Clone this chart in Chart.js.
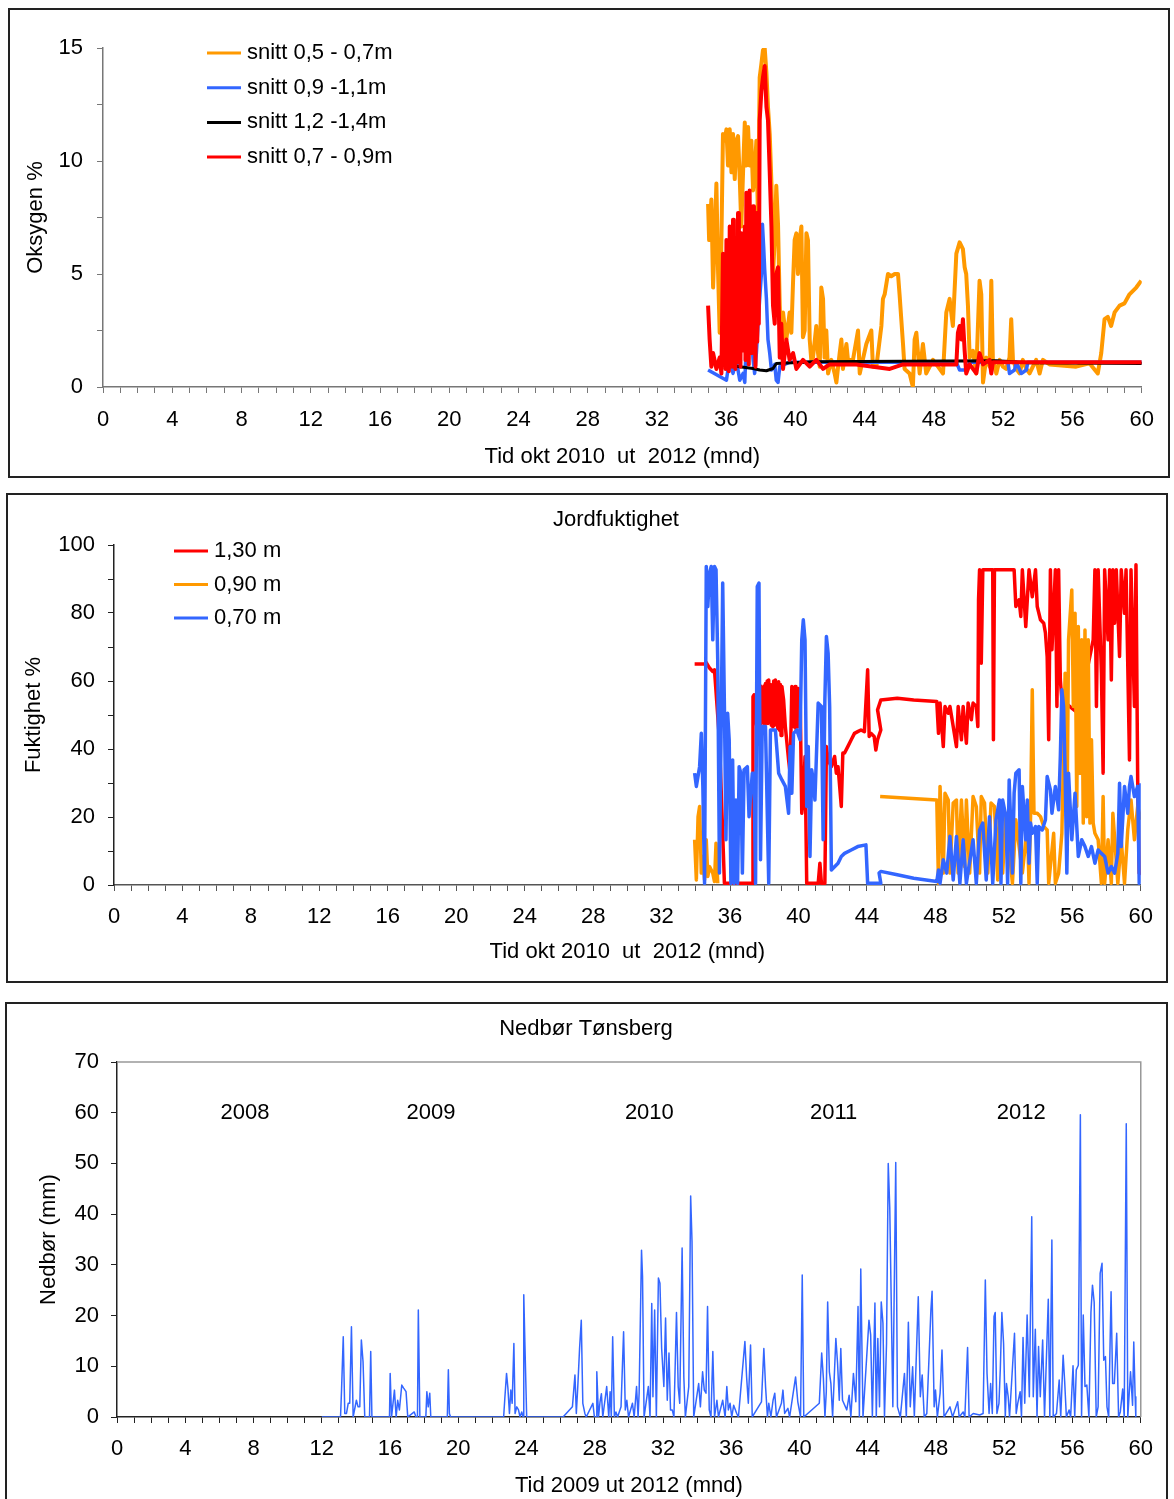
<!DOCTYPE html>
<html>
<head>
<meta charset="utf-8">
<script src="https://cdn.jsdelivr.net/npm/chart.js@4.4.0/dist/chart.umd.min.js"></script>
<style>
  body { margin: 0; background: #fff; width: 1174px; height: 1499px; position: relative; overflow: hidden; }
  .panel { position: absolute; border: 2px solid #222; background: #fff; }
  canvas { display: block; }
</style>
</head>
<body>
<div class="panel" style="left:8px;top:8px;width:1158px;height:466px"><canvas id="oksygen" width="1158" height="466"></canvas></div>
<div class="panel" style="left:6px;top:493px;width:1158px;height:486px"><canvas id="fukt" width="1158" height="486"></canvas></div>
<div class="panel" style="left:5px;top:1002px;width:1159px;height:499px"><canvas id="nedbor" width="1159" height="499"></canvas></div>
<script>
// ---- Oksygen % (months, value) ----
const snitt0507Mnd = [
  34.95,35.01,35.14,35.24,35.33,35.43,35.53,35.62,35.72,35.81,
  35.91,36.01,36.10,36.20,36.30,36.39,36.49,36.58,36.68,36.78,
  36.87,36.97,37.07,37.16,37.26,37.35,37.45,37.55,37.64,37.74,
  37.84,37.93,38.03,38.12,38.22,38.32,38.41,38.51,38.61,38.70,
  38.80,38.89,38.99,39.09,39.18,39.28,39.37,39.47,39.66,39.76,
  39.86,39.95,40.05,40.14,40.24,40.34,40.43,40.53,40.63,40.72,
  40.82,40.91,41.01,41.20,41.30,41.40,41.49,41.59,41.68,41.78,
  41.88,42.07,42.26,42.36,42.55,42.65,42.74,42.94,43.03,43.32,
  43.61,43.71,44.09,44.38,44.47,44.67,44.96,45.05,45.15,45.34,
  45.53,45.73,45.92,46.01,46.21,46.30,46.59,46.78,46.88,46.98,
  47.17,47.36,47.55,47.75,47.94,48.23,48.52,48.71,48.90,49.09,
  49.29,49.48,49.67,49.77,49.86,49.96,50.06,50.25,50.44,50.63,
  50.73,50.83,51.02,51.21,51.31,51.40,51.60,51.79,51.98,52.17,
  52.36,52.46,52.56,52.75,52.94,53.13,53.33,53.52,53.90,54.10,
  54.29,54.67,56.21,56.98,57.46,57.66,57.85,58.04,58.23,58.43,
  58.72,59.00,59.29,59.68,59.97
];
const snitt0507 = [
  8.1,6.5,8.3,4.4,6.5,9.0,5.0,2.4,6.5,11.2,
  10.9,11.4,9.8,11.4,9.5,11.2,9.2,10.9,11.1,9.2,
  7.1,9.5,11.7,9.8,11.5,9.8,10.9,8.7,9.5,10.9,
  7.2,13.7,14.3,14.9,15.0,13.9,12.4,11.2,9.0,5.0,
  6.5,8.9,7.2,3.6,1.3,3.3,2.7,2.1,3.3,2.4,
  4.7,6.5,6.8,5.0,6.5,7.1,2.2,2.5,6.8,6.5,
  2.1,1.2,1.3,2.7,1.5,0.9,4.4,3.9,1.3,2.5,
  0.6,1.2,0.6,0.2,1.5,2.1,0.8,1.9,1.2,1.2,
  2.5,0.6,1.9,2.5,0.9,0.9,2.7,3.9,4.1,5.0,
  4.9,5.0,5.0,4.1,1.9,0.8,0.6,0.0,2.1,2.4,
  0.6,1.9,0.6,0.9,1.2,0.9,0.6,3.3,3.9,2.7,
  5.9,6.4,6.1,5.3,5.0,3.6,1.3,1.6,0.6,4.7,
  4.1,0.2,1.3,0.9,4.7,1.2,0.6,1.2,0.9,0.8,
  1.3,3.0,1.2,0.8,0.6,1.2,0.8,0.6,1.2,0.6,
  1.2,1.0,0.9,1.05,0.6,1.5,3.0,3.1,2.7,3.3,
  3.6,3.7,4.1,4.4,4.7
];
const snitt0911Mnd = [
  34.95,36.01,36.20,36.39,36.58,36.78,36.97,37.07,37.16,37.26,
  37.35,37.45,37.55,37.64,37.74,37.84,37.93,38.03,38.09,38.16,
  38.22,38.32,38.41,38.51,38.61,38.80,38.89,38.99,39.09,39.66,
  49.29,49.48,49.86,50.06,52.27,52.36,52.65,52.75,53.04,53.33,
  53.42,60
];
const snitt0911 = [
  0.75,0.3,1.3,0.6,1.2,0.3,0.6,0.2,2.1,2.4,
  2.7,2.4,1.2,0.6,1.5,2.8,3.9,5.0,7.2,6.2,
  5.2,3.9,2.1,1.5,0.75,1.0,0.3,0.2,0.9,1.1,
  1.1,0.75,0.75,1.1,1.1,0.6,0.75,1.1,0.6,0.75,
  1.1,1.1
];
const snitt1214Mnd = [36.01,36.78,37.55,37.93,38.32,38.70,38.89,41.01,51.60,53.52,60];
const snitt1214 = [0.97,0.9,0.82,0.75,0.72,0.82,1.04,1.12,1.16,1.07,1.04];
const snitt0709Mnd = [
  34.95,35.04,35.14,35.24,35.43,35.62,35.72,
  35.81,35.86,35.91,35.96,36.01,36.05,36.10,36.15,36.20,36.25,
  36.30,36.34,36.39,36.44,36.49,36.53,36.58,36.63,36.68,36.73,
  36.78,36.82,36.87,36.92,36.97,37.02,37.07,37.11,37.16,37.21,
  37.26,37.30,37.35,37.40,37.45,37.50,37.55,37.60,37.64,37.69,
  37.74,37.79,37.84,37.88,37.93,
  38.03,38.12,38.22,38.32,38.41,38.51,38.61,38.70,38.80,38.89,
  38.99,39.09,39.18,39.28,39.47,39.66,39.86,40.05,40.43,40.82,
  41.20,41.59,41.97,43.51,45.44,46.21,49.29,49.38,49.48,49.58,
  49.67,49.77,49.86,50.06,50.44,50.63,50.83,51.21,51.31,51.40,
  60
];
const snitt0709 = [
  3.6,2.1,0.9,1.5,0.8,1.3,0.6,
  5.9,1.0,3.3,0.8,6.5,1.2,2.7,0.7,7.1,1.5,
  3.9,0.9,7.4,2.0,2.1,0.8,6.2,1.1,7.7,2.5,
  3.6,0.9,6.8,1.6,5.0,2.2,7.1,1.2,8.6,3.0,
  5.0,1.0,8.7,2.4,3.9,1.5,8.0,3.3,2.7,0.9,
  7.7,2.0,5.0,2.8,11.8,
  13.1,13.7,14.2,12.4,11.8,9.5,7.1,3.6,2.8,5.0,
  5.3,1.3,2.8,0.8,2.1,1.2,1.5,0.8,1.2,0.9,
  1.2,0.8,1.0,1.0,0.8,1.0,1.0,2.4,2.7,2.1,
  3.0,1.6,0.6,1.0,0.6,1.5,1.0,1.2,0.6,1.1,
  1.1
];

// ---- Jordfuktighet % ----
const fukt130Mnd = [
  33.93,34.51,34.61,34.80,34.99,35.09,35.38,35.67,37.30,37.34,
  37.40,37.45,37.50,37.55,37.59,37.64,37.69,37.74,37.78,37.83,
  37.88,37.93,37.98,38.03,38.07,38.12,38.17,38.21,38.26,38.31,
  38.36,38.41,38.46,38.50,38.55,38.60,38.65,38.70,38.75,38.79,
  38.84,38.89,38.94,38.98,39.03,39.13,39.23,39.42,39.51,39.61,
  39.66,39.71,39.75,39.80,39.85,39.90,39.95,40.00,40.04,40.09,
  40.19,40.28,40.38,40.48,
  41.15,41.25,41.34,41.54,41.63,41.73,41.92,42.11,42.21,42.31,
  42.50,42.59,42.69,42.88,43.08,43.27,43.46,43.65,43.85,44.04,
  44.13,44.23,44.42,44.52,44.62,44.81,44.62,44.81,45.77,46.73,
  48.08,48.18,48.27,48.46,48.56,48.75,48.85,49.04,49.23,49.33,
  49.52,49.62,49.81,49.91,50.10,50.20,50.39,50.48,50.52,50.58,
  50.68,50.77,51.35,51.39,51.45,52.60,52.70,52.89,52.99,53.08,
  53.28,53.47,53.66,53.85,53.95,54.14,54.33,54.43,54.53,54.62,
  54.72,54.81,55.01,55.10,55.20,55.30,55.39,56.35,57.22,57.32,
  57.41,57.51,57.70,57.80,57.89,58.09,58.18,58.28,58.37,58.47,
  58.57,58.76,58.86,59.05,59.14,59.34,59.43,59.63,59.72,59.82,
  59.91,60.00
];
const fukt130 = [
  65.0,65.0,65.4,63.8,62.8,63.3,42.7,0.5,0.5,55.4,
  55.9,48.0,56.0,47.0,53.5,46.0,57.0,48.5,58.5,47.5,
  57.4,49.0,58.5,47.0,59.3,48.0,60.0,47.5,60.3,49.0,
  59.0,47.0,58.4,46.5,60.0,47.0,60.3,48.0,59.5,46.0,
  59.8,45.5,59.0,44.0,58.4,54.4,46.6,36.8,32.9,58.4,
  47.0,58.0,46.5,58.4,46.0,57.5,47.0,57.8,46.5,57.4,
  21.1,25.0,37.8,0.5,
  0.5,6.4,0.5,0.5,40.7,36.8,34.8,37.8,32.9,34.8,
  23.1,38.8,38.8,40.7,42.7,44.6,45.1,45.6,45.1,63.3,
  43.7,44.6,43.7,39.7,42.7,45.6,51.5,54.4,54.9,54.4,
  54.0,44.6,53.5,40.7,52.5,50.5,52.5,46.6,40.7,52.5,
  42.7,52.5,41.7,53.5,48.6,53.5,52.5,46.6,83.9,92.7,
  65.2,92.7,92.7,42.7,92.7,92.7,81.9,83.9,79.0,92.7,
  76.0,92.7,84.8,92.7,81.9,78.0,77.0,74.1,67.2,42.7,
  92.7,69.2,92.7,52.5,92.7,60.3,54.4,50.5,72.1,92.7,
  52.5,92.7,62.3,32.9,92.7,72.1,92.7,60.3,92.7,77.0,
  92.7,67.2,92.7,79.9,92.7,36.8,92.7,52.5,94.2,30.9,
  3.5,3.0
];
const fukt090Mnd = [
  33.93,34.03,34.13,34.22,34.32,34.41,34.51,34.61,34.70,34.80,
  34.99,35.09,35.18,35.28,40.00,44.77,48.08,48.18,48.27,48.46,
  48.56,48.75,48.85,49.04,49.23,49.33,49.52,49.71,49.81,50.00,
  50.20,50.39,50.58,50.68,50.87,51.06,51.25,51.45,51.64,51.74,
  51.93,52.12,52.50,52.70,53.08,53.37,53.47,53.56,53.66,53.76,
  53.95,54.14,54.33,54.53,54.62,54.91,55.01,55.20,55.39,55.58,
  55.68,55.78,55.97,56.06,56.16,56.26,56.35,56.45,56.55,56.64,
  56.74,56.84,56.93,57.03,57.12,57.22,57.32,57.51,57.70,57.80,
  57.89,58.09,58.28,58.37,58.66,58.86,59.05,59.24,59.43,59.63,
  59.82,60.00
];
const fukt090 = [
  13.3,1.5,20.1,23.1,3.5,8.4,1.5,13.3,2.5,5.4,
  3.5,1.0,12.3,0.5,null,26.0,25.0,0.5,29.0,3.5,
  27.0,25.0,3.5,24.1,25.0,3.5,25.0,5.4,25.0,3.5,
  26.0,23.1,3.5,26.0,24.1,3.5,24.1,23.1,1.5,23.1,
  3.5,21.1,0.5,19.2,3.5,17.2,0.5,20.1,57.4,21.1,
  21.1,20.1,17.2,16.2,0.5,15.2,0.5,3.5,15.2,62.3,
  13.3,72.1,86.8,52.5,79.9,23.1,76.0,32.9,72.1,18.2,
  75.0,20.1,72.1,18.2,42.7,18.2,15.2,13.3,0.5,26.0,
  0.5,13.3,0.5,21.1,0.5,13.3,0.5,16.2,25.0,13.3,
  23.1,19.2
];
const fukt070Mnd = [
  33.93,34.03,34.22,34.32,34.41,34.51,34.61,34.70,34.80,34.90,
  34.99,35.09,35.18,35.28,35.38,35.47,35.57,35.67,35.76,35.86,
  35.95,36.05,36.15,36.24,36.34,36.44,36.53,36.63,36.72,36.82,
  37.01,37.11,37.30,37.40,37.49,37.59,37.69,37.78,37.88,38.07,
  38.26,38.36,38.65,38.84,39.03,39.23,39.42,39.51,39.61,39.71,
  39.90,40.09,40.19,40.28,40.38,40.48,40.57,40.67,40.77,40.86,
  40.96,41.15,41.34,41.44,41.54,41.63,41.73,41.82,41.92,42.31,
  42.50,42.69,43.08,43.46,43.94,44.04,44.81,44.71,44.81,45.77,
  46.73,48.08,48.18,48.27,48.46,48.66,48.85,49.04,49.23,49.43,
  49.62,49.81,50.20,50.39,50.58,50.77,50.97,51.16,51.35,51.54,
  51.74,51.83,51.93,52.12,52.22,52.31,52.50,52.60,52.70,52.89,
  52.99,53.08,53.28,53.37,53.47,53.56,53.66,53.85,53.95,54.04,
  54.24,54.43,54.53,54.72,54.81,55.01,55.20,55.30,55.39,55.49,
  55.58,55.68,55.78,55.97,56.16,56.35,56.55,56.74,56.93,57.12,
  57.32,57.51,57.70,57.89,58.09,58.28,58.47,58.66,58.76,58.86,
  59.05,59.24,59.34,59.43,59.63,59.82,59.91,60.00
];
const fukt070 = [
  32.9,29.0,34.8,44.6,29.0,0.5,93.7,81.9,91.7,93.7,
  72.1,93.7,92.7,66.2,3.5,42.7,88.8,52.5,13.3,50.5,
  42.7,0.5,36.8,0.5,25.0,0.5,34.8,32.9,3.5,33.9,
  34.8,20.1,32.9,32.9,0.5,87.8,88.8,7.4,46.6,46.6,
  0.5,45.6,45.6,32.9,30.9,29.0,21.1,40.7,27.0,44.6,
  45.6,42.7,72.1,78.0,72.1,23.1,40.7,8.4,33.9,30.9,
  25.0,53.5,52.5,13.3,54.4,73.1,68.2,52.5,4.4,6.4,
  8.4,9.3,10.3,11.3,11.8,0.5,0.5,3.5,4.0,3.0,
  2.0,1.0,4.4,0.5,7.4,3.5,14.3,1.5,14.3,0.5,
  13.3,0.5,13.3,0.5,16.2,18.2,1.5,20.1,0.5,19.2,
  25.0,0.5,25.0,20.1,0.5,30.9,3.5,27.0,32.9,33.9,
  0.5,29.0,13.3,25.0,6.4,18.2,15.2,17.2,0.5,17.2,
  16.2,19.2,31.9,28.0,21.1,29.0,22.1,37.8,57.4,52.5,
  32.9,3.5,32.9,13.3,27.0,8.4,13.3,11.3,8.4,11.3,
  6.4,10.3,9.3,8.4,3.5,5.4,3.5,9.3,29.9,11.3,
  29.0,21.1,29.0,31.9,26.0,29.0,0.5,29.9
];

// ---- Nedbør Tønsberg (mm) ----
const nedborMnd = [
  12.00,13.10,13.16,13.26,13.35,13.45,13.55,13.64,13.74,13.84,
  14.03,14.13,14.23,14.32,14.42,14.52,14.80,14.87,14.94,15.97,
  16.01,16.09,16.26,16.36,16.45,16.55,16.69,16.80,16.94,17.04,
  17.42,17.52,17.61,17.66,17.75,18.10,18.16,18.24,18.33,18.39,
  19.36,19.42,19.48,19.55,22.66,22.73,22.83,22.91,23.00,23.08,
  23.16,23.26,23.33,23.43,23.53,23.62,23.72,23.80,23.84,23.91,
  24.01,26.14,26.69,26.72,26.84,26.92,27.01,27.11,27.21,27.30,
  27.42,27.50,27.89,27.98,28.08,28.12,28.22,28.31,28.39,28.47,
  28.70,28.82,28.90,28.97,29.05,29.15,29.24,29.34,29.54,29.59,
  29.69,29.79,29.88,29.98,30.21,30.31,30.45,30.54,30.60,30.74,
  30.80,30.89,31.14,31.24,31.34,31.41,31.51,31.61,31.73,31.82,
  31.92,32.05,32.15,32.25,32.35,32.44,32.54,32.64,32.79,32.89,
  32.98,33.12,33.22,33.31,33.51,33.62,33.70,33.80,34.09,34.19,
  34.32,34.42,34.52,34.61,34.71,34.81,34.92,35.02,35.16,35.25,
  35.50,35.64,35.74,35.83,35.93,36.03,36.14,36.32,36.42,36.80,
  36.90,37.00,37.13,37.23,37.77,37.91,38.01,38.12,38.20,38.32,
  38.45,38.55,38.65,38.94,39.03,39.13,39.32,39.42,39.77,39.90,
  40.06,40.16,40.25,41.16,41.30,41.40,41.49,41.57,41.65,41.75,
  41.84,41.94,42.13,42.23,42.33,42.42,42.52,42.77,42.91,43.01,
  43.16,43.30,43.43,43.51,43.59,43.72,44.07,44.17,44.27,44.42,
  44.50,44.59,44.69,44.79,44.89,44.98,45.10,45.20,45.29,45.39,
  45.47,45.64,45.74,45.91,46.15,46.26,46.38,46.49,46.63,46.73,
  46.96,47.08,47.19,47.31,47.46,47.70,47.77,47.89,47.97,48.08,
  48.24,48.35,48.47,48.82,48.97,49.27,49.36,49.59,49.69,49.85,
  49.94,50.18,50.56,50.76,50.89,50.99,51.11,51.20,51.30,51.40,
  51.47,51.57,51.69,51.77,51.86,51.96,52.06,52.13,52.23,52.31,
  52.60,52.70,52.79,52.93,53.01,53.10,53.20,53.34,53.47,53.61,
  53.70,53.82,53.92,54.01,54.11,54.25,54.36,54.58,54.67,54.79,
  54.87,55.06,55.22,55.31,55.45,55.54,55.64,55.80,55.89,56.03,
  56.13,56.22,56.34,56.46,56.53,56.63,56.73,56.84,56.96,57.08,
  57.17,57.27,57.39,57.50,57.62,57.73,57.83,57.93,58.02,58.12,
  58.26,58.35,58.45,58.59,58.70,58.80,58.94,59.03,59.15,59.24,
  59.40,59.52,59.59,59.67,59.71
];
const nedbor = [
  0,0,5.3,15.8,0.7,0.7,2.7,2.7,17.8,0,
  3.3,2.0,2.0,15.2,10.9,0,0,12.9,0,0,
  8.6,0,5.3,0,3.3,1.4,6.3,5.7,5.0,0,
  1.0,0,0,21.1,0,0,5.0,2.0,4.7,0,
  0,9.3,0.7,0,0,3.7,8.6,5.7,0.7,5.3,
  2.7,14.5,0.7,2.0,1.4,0,1.0,0,24.1,13.9,
  0,0,2.0,2.0,8.3,0.7,6.3,13.5,19.1,2.7,
  0.7,0,2.7,0,0,8.9,0,3.0,4.6,0,
  6.0,0,5.0,0,15.8,0,1.0,0,2.0,2.0,
  16.8,1.4,3.3,0,2.7,0,6.0,0,4.7,32.9,
  27.7,0,6.0,0,22.4,4.0,21.1,0,27.4,26.4,
  13.5,6.0,19.5,3.3,12.6,1.4,1.4,0,20.6,6.0,
  2.7,33.3,7.9,0,6.0,43.6,34.6,0,6.6,2.0,
  8.9,5.3,4.7,21.8,1.4,0,12.9,0,3.3,0,
  3.3,0,6.0,1.4,2.7,0,2.3,0.7,0,14.9,
  7.9,2.7,14.2,0,3.0,13.5,6.0,0,2.7,0,
  3.3,4.7,0,2.7,5.3,0.7,1.7,0,7.9,3.0,
  0,28.0,0,2.7,12.6,7.6,0,5.0,22.7,8.9,
  6.6,0,15.5,10.6,3.3,13.5,3.3,1.4,4.3,0,
  8.6,3.0,21.8,0,29.2,0,19.1,16.2,0,22.5,
  0,15.5,2.0,22.7,18.5,0,14.5,50.0,41.2,19.5,
  2.0,50.2,2.0,0,8.6,0,18.7,2.0,9.9,0,
  23.7,4.0,8.3,0,0.7,21.1,24.8,2.0,5.3,0,
  4.7,13.2,0,2.0,0,3.0,0,1.0,0,13.7,
  0,0.7,0.4,0.7,27.0,8.6,0.7,6.6,0.7,19.8,
  20.6,0.7,2.7,9.6,20.6,14.5,0,6.6,4.0,0,
  16.5,0.7,2.7,5.0,0,15.7,2.7,20.1,4.0,39.5,
  4.0,17.3,0,13.9,4.0,15.2,0,23.2,0,34.9,
  0,0.7,7.3,0,12.2,7.0,0,1.4,0,10.1,
  0,9.3,10.2,59.6,0,20.1,6.0,6.3,0,20.6,
  26.0,22.6,0,2.0,28.3,30.3,11.2,11.9,2.0,0,
  24.7,6.6,6.6,16.5,0,1.0,5.5,0,57.8,0,
  8.9,2.3,14.8,4.0,0
];
const yearLabels = ['2008', '2009', '2010', '2011', '2012'];
const yearMonths = [7.5, 18.4, 31.2, 42.0, 53.0];
const yearLabelLevel = 60;

const FONT = '"Liberation Sans", Arial, sans-serif';
Chart.defaults.font.family = FONT;
Chart.defaults.font.size = 22;
Chart.defaults.color = '#000';

const ORANGE = '#ff9900', BLUE = '#3366ff', RED = '#ff0000', BLACK = '#000000';

function series(label, xs, ys, color, width, order) {
    return {
        label: label,
        data: xs.map((x, i) => ({ x: x, y: ys[i] })),
        borderColor: color,
        backgroundColor: color,
        borderWidth: width,
        borderJoinStyle: 'round',
        pointRadius: 0,
        tension: 0,
        spanGaps: false,
        order: order
    };
}

function xAxis(title, height, tickPad, titlePad, color) {
    return {
        type: 'linear', min: 0, max: 60,
        afterFit: s => { s.height = height; },
        ticks: { stepSize: 1, autoSkip: false, maxRotation: 0, padding: tickPad,
                 callback: v => (v % 4 === 0 ? v : '') },
        grid: { drawOnChartArea: false, tickLength: 6, color: color },
        border: { color: color, width: 1.5 },
        title: { display: true, text: title, padding: { top: 0, bottom: titlePad } }
    };
}

function yAxis(max, step, labelEvery, title, width, tickPad, titlePad, color) {
    return {
        type: 'linear', min: 0, max: max,
        afterFit: s => { s.width = width; },
        ticks: { stepSize: step, padding: tickPad, callback: v => (v % labelEvery === 0 ? v : '') },
        grid: { drawOnChartArea: false, tickLength: 6, color: color },
        border: { color: color, width: 1.5 },
        title: { display: true, text: title, padding: { top: titlePad, bottom: 0 } }
    };
}

// legend lines, titles, year labels and plot frame
const overlay = {
    id: 'overlay',
    afterDraw(chart, args, opts) {
        const ctx = chart.ctx;
        ctx.save();
        ctx.font = '22px ' + FONT;
        ctx.fillStyle = '#000';
        ctx.textBaseline = 'middle';
        if (opts.legend) {
            const L = opts.legend;
            L.items.forEach((it, i) => {
                const y = L.y + i * L.dy;
                ctx.strokeStyle = it.color;
                ctx.lineWidth = 3;
                ctx.beginPath();
                ctx.moveTo(L.x, y);
                ctx.lineTo(L.x + 34, y);
                ctx.stroke();
                ctx.textAlign = 'left';
                ctx.fillText(it.text, L.x + 40, y);
            });
        }
        if (opts.title) {
            ctx.textAlign = 'center';
            ctx.fillText(opts.title.text, opts.title.x, opts.title.y);
        }
        if (opts.years) {
            ctx.textAlign = 'center';
            const y = chart.scales.y.getPixelForValue(yearLabelLevel);
            yearLabels.forEach((t, i) => ctx.fillText(t, chart.scales.x.getPixelForValue(yearMonths[i]), y));
        }
        if (opts.frame) {
            const a = chart.chartArea;
            ctx.strokeStyle = '#999';
            ctx.lineWidth = 1.5;
            ctx.beginPath();
            ctx.moveTo(a.left, a.top);
            ctx.lineTo(a.right, a.top);
            ctx.lineTo(a.right, a.bottom);
            ctx.stroke();
        }
        ctx.restore();
    }
};

function baseOptions(padding, scales, overlayOpts) {
    return {
        responsive: false, animation: false, devicePixelRatio: 1, events: [],
        layout: { padding: padding },
        scales: scales,
        plugins: { legend: { display: false }, tooltip: { enabled: false }, overlay: overlayOpts }
    };
}

new Chart(document.getElementById('oksygen'), {
    type: 'line',
    data: { datasets: [
        series('snitt 0,5 - 0,7m', snitt0507Mnd, snitt0507, ORANGE, 4, 4),
        series('snitt 0,9 -1,1m', snitt0911Mnd, snitt0911, BLUE, 3.5, 3),
        series('snitt 1,2 -1,4m', snitt1214Mnd, snitt1214, BLACK, 3, 2),
        series('snitt 0,7 - 0,9m', snitt0709Mnd, snitt0709, RED, 4, 1)
    ] },
    options: baseOptions({ left: 0, top: 38, right: 26, bottom: 0 }, {
        x: xAxis('Tid okt 2010  ut  2012 (mnd)', 89, 14, 6, '#777'),
        y: yAxis(15, 2.5, 5, 'Oksygen %', 93, 14, 13, '#777')
    }, {
        legend: { x: 197, y: 43, dy: 34.7, items: [
            { text: 'snitt 0,5 - 0,7m', color: ORANGE },
            { text: 'snitt 0,9 -1,1m', color: BLUE },
            { text: 'snitt 1,2 -1,4m', color: BLACK },
            { text: 'snitt 0,7 - 0,9m', color: RED }
        ] }
    }),
    plugins: [overlay]
});

new Chart(document.getElementById('fukt'), {
    type: 'line',
    data: { datasets: [
        series('1,30 m', fukt130Mnd, fukt130, RED, 3.5, 3),
        series('0,90 m', fukt090Mnd, fukt090, ORANGE, 3.5, 2),
        series('0,70 m', fukt070Mnd, fukt070, BLUE, 3.5, 1)
    ] },
    options: baseOptions({ left: 0, top: 50, right: 13, bottom: 0 }, {
        x: xAxis('Tid okt 2010  ut  2012 (mnd)', 96, 13, 16, '#555'),
        y: yAxis(100, 10, 20, 'Fuktighet %', 106, 13, 13, '#222')
    }, {
        title: { text: 'Jordfuktighet', x: 608, y: 25 },
        legend: { x: 166, y: 56, dy: 33.5, items: [
            { text: '1,30 m', color: RED },
            { text: '0,90 m', color: ORANGE },
            { text: '0,70 m', color: BLUE }
        ] }
    }),
    plugins: [overlay]
});

new Chart(document.getElementById('nedbor'), {
    type: 'line',
    data: { datasets: [
        series('Nedbør', nedborMnd, nedbor, BLUE, 1.5, 1)
    ] },
    options: baseOptions({ left: 0, top: 58, right: 17, bottom: 0 }, {
        x: xAxis('Tid 2009 ut 2012 (mnd)', 86, 13, 4, '#222'),
        y: yAxis(70, 10, 10, 'Nedbør (mm)', 110, 12, 29, '#222')
    }, {
        title: { text: 'Nedbør Tønsberg', x: 579, y: 25 },
        years: true,
        frame: true
    }),
    plugins: [overlay]
});
</script>
</body>
</html>
